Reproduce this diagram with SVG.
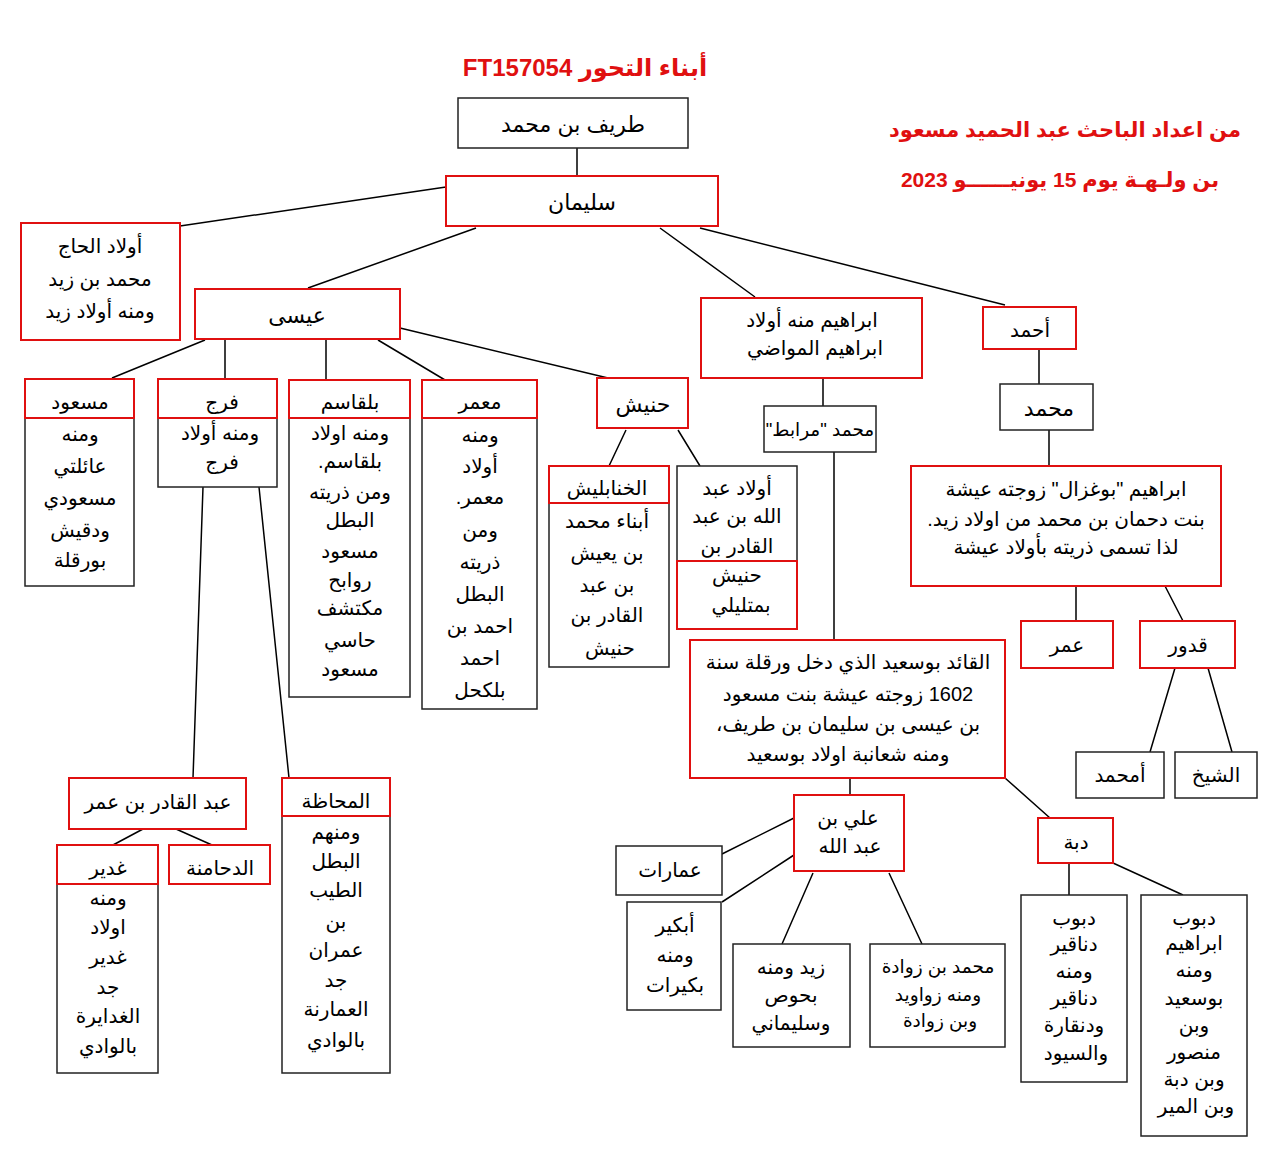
<svg xmlns="http://www.w3.org/2000/svg" width="1265" height="1160" viewBox="0 0 1265 1160">
<style>
text{font-family:"Liberation Sans","DejaVu Sans",sans-serif;font-size:20px;fill:#000;text-anchor:middle;direction:rtl}
.r{fill:#fff;stroke:#e01010;stroke-width:2}
.b{fill:#fff;stroke:#222;stroke-width:1.5}
.l{stroke:#000;stroke-width:1.5;fill:none}
.big{font-size:22px}
.s{font-size:18.5px}
.t{font-size:24px;font-weight:bold;fill:#e01010}
.h{font-size:21px;font-weight:bold;fill:#e01010}
</style>
<rect width="1265" height="1160" fill="#fff"/>
<g id="connectors">
<path class="l" d="M577 148V176M446 187L180 226M476 228L308 288M660 228L755 297M700 228L1005 305M205 340L112 378M225 340V379M326 340V379M378 340L445 380M400 328L608 378M626 430L609 466M678 430L700 466M823 378V406M834 452V640M1039 349V384M1049 430V466M1076 586V621M1165 586L1183 621M1175 668L1150 752M1208 668L1232 752M1005 778L1050 818M850 778V795M794 818L722 854M794 855L722 902M813 873L782 944M889 873L922 944M1069 863V895M1113 863L1183 895M203 487L193 778M259 487L289 778M143 829L113 845M176 829L212 845"/>
</g>
<g id="title"><text class="t" x="585" y="76">أبناء التحور FT157054</text></g>
<g id="credit"><text class="h" x="1065" y="137">من اعداد الباحث عبد الحميد مسعود</text><text class="h" x="1060" y="187">بن ولـهـة يوم 15 يونيــــــو 2023</text></g>
<g id="tarif"><rect class="b" x="458" y="98" width="230" height="50"/><text class="big" x="573" y="132">طريف بن محمد</text></g>
<g id="sulayman"><rect class="r" x="446" y="176" width="272" height="50"/><text class="big" x="582" y="210">سليمان</text></g>
<g id="awlad-hajj"><rect class="r" x="21" y="223" width="159" height="117"/><text x="100" y="253">أولاد الحاج</text><text x="100" y="286">محمد بن زيد</text><text x="100" y="318">ومنه أولاد زيد</text></g>
<g id="isa"><rect class="r" x="195" y="289" width="205" height="50"/><text class="big" x="297" y="323">عيسى</text></g>
<g id="masoud"><rect class="b" x="25" y="418" width="109" height="168"/><rect class="r" x="25" y="379" width="109" height="39"/><text x="80" y="409">مسعود</text><text x="80" y="441">ومنه</text><text x="80" y="473">عائلتي</text><text x="80" y="505">مسعودي</text><text x="80" y="537">ودقيش</text><text x="80" y="567">بورقلة</text></g>
<g id="faraj"><rect class="b" x="158" y="418" width="119" height="69"/><rect class="r" x="158" y="379" width="119" height="39"/><text x="222" y="409">فرج</text><text x="220" y="440">ومنه أولاد</text><text x="222" y="469">فرج</text></g>
<g id="belkacem"><rect class="b" x="289" y="418" width="121" height="279"/><rect class="r" x="289" y="380" width="121" height="38"/><text x="350" y="409">بلقاسم</text><text x="350" y="440">ومنه اولاد</text><text x="350" y="468">بلقاسم.</text><text x="350" y="499">ومن ذريته</text><text x="350" y="527">البطل</text><text x="350" y="558">مسعود</text><text x="350" y="587">روابح</text><text x="350" y="615">مكتشف</text><text x="350" y="647">حاسي</text><text x="350" y="676">مسعود</text></g>
<g id="mamar"><rect class="b" x="422" y="418" width="115" height="291"/><rect class="r" x="422" y="380" width="115" height="38"/><text x="480" y="409">معمر</text><text x="480" y="442">ومنه</text><text x="480" y="473">أولاد</text><text x="480" y="504">معمر.</text><text x="480" y="537">ومن</text><text x="480" y="569">ذريته</text><text x="480" y="601">البطل</text><text x="480" y="633">احمد بن</text><text x="480" y="665">احمد</text><text x="480" y="697">بلكحل</text></g>
<g id="hnich"><rect class="r" x="597" y="378" width="91" height="50"/><text class="big" x="643" y="412">حنيش</text></g>
<g id="khanablish"><rect class="b" x="549" y="503" width="120" height="164"/><rect class="r" x="549" y="466" width="120" height="37"/><text x="607" y="495">الخنابليش</text><text x="607" y="528">أبناء محمد</text><text x="607" y="560">بن يعيش</text><text x="607" y="592">بن عبد</text><text x="607" y="622">القادر بن</text><text x="610" y="655">حنيش</text></g>
<g id="awlad-abdallah"><rect class="b" x="677" y="466" width="120" height="163"/><text x="737" y="495">أولاد عبد</text><text x="737" y="523">الله بن عبد</text><text x="737" y="553">القادر بن</text><rect class="r" x="677" y="561" width="120" height="68"/><text x="737" y="582">حنيش</text><text x="741" y="612">بمتليلي</text></g>
<g id="ibrahim"><rect class="r" x="701" y="298" width="221" height="80"/><text x="812" y="327">ابراهيم  منه أولاد</text><text x="815" y="355">ابراهيم المواضي</text></g>
<g id="mrabet"><rect class="b" x="764" y="406" width="112" height="46"/><text class="s" x="820" y="436">محمد "مرابط"</text></g>
<g id="ahmed"><rect class="r" x="983" y="307" width="93" height="42"/><text x="1030" y="337">أحمد</text></g>
<g id="mohamed"><rect class="b" x="1000" y="384" width="93" height="46"/><text class="big" x="1049" y="416">محمد</text></g>
<g id="boughazal"><rect class="r" x="911" y="466" width="310" height="120"/><text x="1066" y="496">ابراهيم "بوغزال" زوجته عيشة</text><text x="1066" y="526">بنت دحمان بن محمد من اولاد زيد.</text><text x="1066" y="554">لذا تسمى ذريته بأولاد عيشة</text></g>
<g id="omar"><rect class="r" x="1021" y="621" width="92" height="47"/><text x="1067" y="652">عمر</text></g>
<g id="qaddour"><rect class="r" x="1140" y="621" width="95" height="47"/><text x="1188" y="652">قدور</text></g>
<g id="amhamed"><rect class="b" x="1076" y="752" width="88" height="46"/><text x="1120" y="782">أمحمد</text></g>
<g id="cheikh"><rect class="b" x="1175" y="752" width="82" height="46"/><text x="1216" y="782">الشيخ</text></g>
<g id="bousaid"><rect class="r" x="690" y="640" width="315" height="138"/><text x="848" y="669">القائد بوسعيد الذي دخل ورقلة سنة</text><text x="848" y="701">1602 زوجته عيشة بنت مسعود</text><text x="848" y="731">بن عيسى بن سليمان بن طريف،</text><text x="848" y="761">ومنه شعانبة اولاد بوسعيد</text></g>
<g id="ali"><rect class="r" x="794" y="795" width="110" height="76"/><text x="848" y="825">علي بن</text><text x="850" y="853">عبد الله</text></g>
<g id="amarat"><rect class="b" x="616" y="846" width="106" height="49"/><text x="670" y="877">عمارات</text></g>
<g id="abkir"><rect class="b" x="627" y="902" width="94" height="108"/><text x="675" y="932">أبكير</text><text x="675" y="962">ومنه</text><text x="675" y="992">بكيرات</text></g>
<g id="zaid"><rect class="b" x="733" y="944" width="117" height="103"/><text x="791" y="974">زيد ومنه</text><text x="791" y="1002">بحوص</text><text x="791" y="1030">وسليماني</text></g>
<g id="zouada"><rect class="b" x="870" y="944" width="135" height="103"/><text class="s" x="938" y="973">محمد بن زوادة</text><text class="s" x="938" y="1001">ومنه زواويد</text><text class="s" x="940" y="1027">وبن زوادة</text></g>
<g id="dabba"><rect class="r" x="1038" y="818" width="75" height="45"/><text x="1076" y="849">دبة</text></g>
<g id="dnaqir"><rect class="b" x="1021" y="895" width="106" height="187"/><text x="1074" y="925">دبوب</text><text x="1074" y="951">دناقير</text><text x="1074" y="978">ومنه</text><text x="1074" y="1005">دناقير</text><text x="1074" y="1032">ودنقارة</text><text x="1076" y="1060">والسيود</text></g>
<g id="dboub-ibrahim"><rect class="b" x="1141" y="895" width="106" height="241"/><text x="1194" y="925">دبوب</text><text x="1194" y="950">ابراهيم</text><text x="1194" y="977">ومنه</text><text x="1194" y="1005">بوسعيد</text><text x="1194" y="1032">وبن</text><text x="1194" y="1059">منصور</text><text x="1194" y="1086">وبن دبة</text><text x="1196" y="1113">وبن المير</text></g>
<g id="abdelkader"><rect class="r" x="69" y="778" width="177" height="51"/><text x="158" y="809">عبد القادر بن عمر</text></g>
<g id="ghedir"><rect class="b" x="57" y="884" width="101" height="189"/><rect class="r" x="57" y="845" width="101" height="39"/><text x="108" y="875">غدير</text><text x="108" y="905">ومنه</text><text x="108" y="934">اولاد</text><text x="108" y="964">غدير</text><text x="108" y="994">جد</text><text x="108" y="1023">الغدايرة</text><text x="108" y="1053">بالوادي</text></g>
<g id="dhamna"><rect class="r" x="169" y="845" width="101" height="39"/><text x="220" y="875">الدحامنة</text></g>
<g id="mahadha"><rect class="b" x="282" y="816" width="108" height="257"/><rect class="r" x="282" y="778" width="108" height="38"/><text x="336" y="808">المحاظة</text><text x="336" y="839">ومنهم</text><text x="336" y="868">البطل</text><text x="336" y="897">الطيب</text><text x="336" y="928">بن</text><text x="336" y="957">عمران</text><text x="336" y="987">جد</text><text x="336" y="1016">العمارنة</text><text x="336" y="1047">بالوادي</text></g>
</svg>
